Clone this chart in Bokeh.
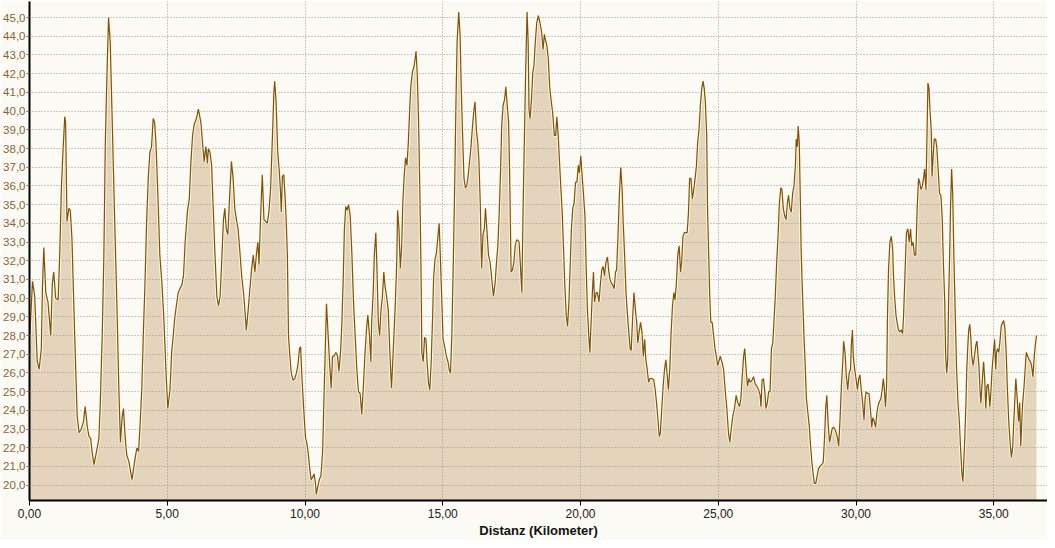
from bokeh.plotting import figure
from bokeh.models import Range1d, FixedTicker, CustomJSTickFormatter
from bokeh.embed import file_html
from bokeh.resources import INLINE

# Distance along the route (km)
distance_km = [
    0.00, 0.11, 0.19, 0.28, 0.35, 0.43, 0.47, 0.52, 0.59, 0.67, 0.77, 0.83, 0.88, 0.95, 1.04, 1.10,
    1.16, 1.22, 1.28, 1.31, 1.36, 1.43, 1.48, 1.54, 1.64, 1.73, 1.80, 1.88, 1.96, 2.02, 2.10, 2.16,
    2.22, 2.27, 2.34, 2.42, 2.52, 2.57, 2.64, 2.70, 2.75, 2.81, 2.87, 2.93, 3.00, 3.08, 3.17, 3.24,
    3.30, 3.36, 3.41, 3.47, 3.53, 3.60, 3.66, 3.72, 3.78, 3.84, 3.90, 3.96, 4.02, 4.08, 4.13, 4.19,
    4.25, 4.31, 4.37, 4.43, 4.49, 4.54, 4.59, 4.66, 4.73, 4.81, 4.87, 4.95, 5.02, 5.10, 5.16, 5.22,
    5.27, 5.34, 5.40, 5.46, 5.53, 5.59, 5.65, 5.73, 5.80, 5.86, 5.92, 5.98, 6.06, 6.13, 6.22, 6.28,
    6.34, 6.40, 6.46, 6.49, 6.55, 6.61, 6.66, 6.73, 6.80, 6.86, 6.92, 6.98, 7.04, 7.09, 7.14, 7.20,
    7.27, 7.33, 7.39, 7.45, 7.51, 7.57, 7.63, 7.70, 7.78, 7.87, 7.94, 8.00, 8.06, 8.12, 8.18, 8.24,
    8.29, 8.33, 8.39, 8.45, 8.51, 8.57, 8.63, 8.69, 8.75, 8.81, 8.87, 8.90, 8.95, 9.01, 9.07, 9.11,
    9.14, 9.18, 9.23, 9.27, 9.31, 9.36, 9.40, 9.45, 9.50, 9.57, 9.63, 9.69, 9.75, 9.80, 9.84, 9.89,
    9.94, 9.98, 10.02, 10.06, 10.11, 10.17, 10.22, 10.27, 10.33, 10.38, 10.41, 10.46, 10.52, 10.58,
    10.64, 10.70, 10.75, 10.78, 10.84, 10.89, 10.95, 11.00, 11.06, 11.12, 11.18, 11.23, 11.29, 11.34,
    11.39, 11.43, 11.48, 11.53, 11.58, 11.64, 11.70, 11.76, 11.82, 11.88, 11.94, 12.00, 12.06, 12.12,
    12.18, 12.24, 12.28, 12.34, 12.39, 12.42, 12.47, 12.52, 12.57, 12.61, 12.66, 12.71, 12.76, 12.81,
    12.86, 12.90, 12.96, 13.02, 13.08, 13.14, 13.20, 13.27, 13.33, 13.36, 13.41, 13.46, 13.51, 13.55,
    13.60, 13.65, 13.70, 13.75, 13.80, 13.84, 13.90, 13.96, 14.03, 14.07, 14.12, 14.17, 14.21, 14.24,
    14.29, 14.34, 14.39, 14.43, 14.48, 14.53, 14.58, 14.63, 14.67, 14.72, 14.77, 14.82, 14.87, 14.91,
    14.96, 15.01, 15.07, 15.13, 15.19, 15.23, 15.28, 15.33, 15.38, 15.43, 15.48, 15.52, 15.58, 15.63,
    15.67, 15.72, 15.77, 15.82, 15.87, 15.92, 15.98, 16.02, 16.07, 16.12, 16.17, 16.22, 16.27, 16.31,
    16.36, 16.41, 16.46, 16.51, 16.55, 16.60, 16.66, 16.72, 16.78, 16.84, 16.90, 16.95, 17.00, 17.05,
    17.10, 17.14, 17.19, 17.24, 17.29, 17.34, 17.39, 17.43, 17.48, 17.53, 17.58, 17.63, 17.68, 17.72,
    17.77, 17.82, 17.87, 17.92, 17.96, 18.01, 18.06, 18.10, 18.13, 18.17, 18.22, 18.27, 18.31, 18.36,
    18.41, 18.47, 18.53, 18.59, 18.64, 18.69, 18.73, 18.78, 18.83, 18.88, 18.93, 18.99, 19.05, 19.10,
    19.14, 19.19, 19.24, 19.29, 19.34, 19.39, 19.43, 19.48, 19.53, 19.58, 19.63, 19.67, 19.72, 19.77,
    19.82, 19.87, 19.92, 19.96, 20.01, 20.06, 20.11, 20.16, 20.20, 20.25, 20.30, 20.34, 20.39, 20.43,
    20.47, 20.51, 20.57, 20.61, 20.67, 20.72, 20.77, 20.82, 20.87, 20.92, 20.98, 21.02, 21.07, 21.12,
    21.17, 21.22, 21.27, 21.31, 21.36, 21.41, 21.46, 21.51, 21.55, 21.60, 21.65, 21.70, 21.75, 21.80,
    21.84, 21.89, 21.94, 21.99, 22.04, 22.08, 22.13, 22.18, 22.23, 22.28, 22.33, 22.37, 22.42, 22.47,
    22.52, 22.57, 22.61, 22.66, 22.71, 22.76, 22.81, 22.86, 22.90, 22.95, 23.00, 23.05, 23.10, 23.14,
    23.19, 23.24, 23.29, 23.34, 23.39, 23.43, 23.48, 23.53, 23.58, 23.63, 23.67, 23.72, 23.77, 23.82,
    23.87, 23.92, 23.96, 24.01, 24.06, 24.11, 24.16, 24.21, 24.25, 24.30, 24.35, 24.40, 24.45, 24.49,
    24.53, 24.58, 24.61, 24.65, 24.69, 24.73, 24.78, 24.83, 24.88, 24.93, 24.98, 25.02, 25.07, 25.13,
    25.19, 25.25, 25.31, 25.37, 25.42, 25.47, 25.53, 25.59, 25.65, 25.71, 25.77, 25.82, 25.87, 25.92,
    25.96, 26.01, 26.06, 26.11, 26.16, 26.22, 26.28, 26.34, 26.40, 26.46, 26.52, 26.55, 26.59, 26.64,
    26.69, 26.73, 26.78, 26.83, 26.88, 26.93, 26.98, 27.02, 27.07, 27.12, 27.17, 27.22, 27.27, 27.31,
    27.36, 27.41, 27.46, 27.51, 27.55, 27.60, 27.65, 27.70, 27.75, 27.80, 27.83, 27.87, 27.90, 27.94,
    27.98, 28.01, 28.06, 28.11, 28.16, 28.20, 28.25, 28.30, 28.35, 28.40, 28.45, 28.49, 28.54, 28.59,
    28.64, 28.69, 28.75, 28.81, 28.86, 28.90, 28.94, 28.99, 29.04, 29.08, 29.13, 29.18, 29.23, 29.28,
    29.33, 29.37, 29.42, 29.47, 29.52, 29.55, 29.60, 29.65, 29.70, 29.75, 29.80, 29.83, 29.87, 29.90,
    29.95, 30.00, 30.05, 30.10, 30.14, 30.19, 30.24, 30.29, 30.33, 30.37, 30.42, 30.47, 30.52, 30.57,
    30.61, 30.66, 30.71, 30.76, 30.81, 30.86, 30.90, 30.95, 30.99, 31.02, 31.07, 31.11, 31.14, 31.18,
    31.23, 31.28, 31.33, 31.36, 31.40, 31.45, 31.49, 31.54, 31.59, 31.64, 31.69, 31.73, 31.78, 31.83,
    31.88, 31.93, 31.98, 32.02, 32.07, 32.12, 32.17, 32.22, 32.27, 32.31, 32.36, 32.41, 32.46, 32.49,
    32.54, 32.58, 32.61, 32.65, 32.69, 32.73, 32.76, 32.80, 32.84, 32.89, 32.93, 32.98, 33.03, 33.08,
    33.13, 33.17, 33.22, 33.25, 33.29, 33.33, 33.36, 33.40, 33.43, 33.47, 33.51, 33.55, 33.60, 33.65,
    33.70, 33.75, 33.79, 33.84, 33.88, 33.91, 33.95, 33.99, 34.02, 34.06, 34.09, 34.13, 34.17, 34.20,
    34.25, 34.30, 34.35, 34.39, 34.43, 34.46, 34.50, 34.53, 34.58, 34.63, 34.67, 34.71, 34.75, 34.79,
    34.82, 34.86, 34.90, 34.94, 34.99, 35.03, 35.07, 35.10, 35.14, 35.18, 35.22, 35.27, 35.32, 35.36,
    35.40, 35.45, 35.49, 35.54, 35.59, 35.64, 35.69, 35.72, 35.76, 35.80, 35.83, 35.87, 35.90, 35.94,
    35.98, 36.02, 36.05, 36.10, 36.14, 36.18, 36.23, 36.28, 36.33, 36.37, 36.42, 36.47, 36.51, 36.55,
]

# Speed values (km/h)
speed_kmh = [
    27.7, 30.9, 30.1, 26.6, 26.2, 27.3, 30.6, 32.7, 30.3, 29.8, 28.0, 30.8, 31.4, 30.0, 29.9, 32.5,
    36.0, 38.0, 39.7, 39.4, 34.1, 34.8, 34.7, 33.2, 28.0, 23.7, 22.8, 23.0, 23.4, 24.2, 23.1, 22.6,
    22.5, 21.8, 21.1, 21.7, 22.5, 24.4, 28.0, 32.3, 38.1, 41.9, 45.0, 43.7, 39.6, 34.8, 29.8, 25.3,
    22.3, 23.6, 24.1, 22.6, 21.6, 21.3, 20.8, 20.3, 20.9, 21.5, 22.0, 21.8, 23.4, 25.3, 28.0, 30.7,
    34.0, 36.4, 37.8, 38.1, 39.6, 39.4, 38.3, 35.5, 32.3, 30.7, 29.1, 26.2, 24.1, 25.1, 27.1, 28.0,
    28.9, 29.7, 30.3, 30.5, 30.7, 31.2, 33.0, 34.6, 35.3, 37.3, 38.7, 39.3, 39.6, 40.1, 39.4, 38.3,
    37.3, 38.1, 37.2, 38.0, 37.8, 37.1, 35.1, 32.4, 30.1, 29.6, 30.1, 32.1, 34.2, 34.8, 33.7, 33.4,
    35.6, 37.3, 36.4, 34.8, 34.2, 33.7, 32.6, 31.2, 30.1, 28.3, 29.4, 30.5, 31.5, 32.3, 31.4, 32.4,
    33.0, 31.8, 34.4, 36.6, 34.2, 34.1, 34.0, 34.6, 35.8, 38.3, 41.0, 41.6, 40.5, 37.8, 36.7, 35.7,
    34.6, 36.5, 36.6, 35.6, 34.4, 32.3, 28.0, 26.9, 26.0, 25.6, 25.7, 26.0, 26.5, 27.3, 27.4, 25.7,
    24.4, 23.4, 22.5, 22.3, 21.8, 20.9, 20.3, 20.4, 20.6, 20.1, 19.5, 19.9, 20.3, 20.5,
    21.8, 25.3, 28.0, 29.7, 28.0, 26.6, 25.2, 26.9, 26.9, 27.1, 26.9, 26.1, 27.1, 28.7,
    31.2, 33.7, 34.9, 34.7, 35.0, 34.4, 32.4, 29.8, 28.0, 26.2, 25.0, 24.9, 23.8, 25.3,
    27.1, 28.5, 29.1, 28.0, 26.6, 28.7, 30.1, 32.4, 33.5, 31.7, 28.7, 28.0, 29.4, 30.1,
    31.4, 30.7, 30.1, 29.4, 27.1, 25.2, 27.1, 29.4, 31.9, 34.7, 33.7, 31.6, 32.8, 35.1,
    36.5, 37.5, 37.1, 38.3, 40.1, 41.3, 42.1, 42.4, 43.2, 42.1, 39.6, 35.5, 31.6, 27.1,
    26.6, 27.9, 27.8, 26.6, 25.5, 25.1, 26.6, 28.9, 31.1, 32.1, 32.4, 33.2, 34.0, 32.3,
    30.1, 27.8, 27.4, 26.9, 26.6, 26.2, 26.0, 28.0, 31.7, 35.8, 40.5, 43.7, 45.3, 44.0,
    41.3, 38.7, 36.4, 35.9, 36.0, 36.5, 37.4, 38.0, 39.0, 39.9, 40.5, 39.0, 38.3, 37.4,
    35.1, 31.6, 33.4, 33.7, 34.8, 33.7, 32.3, 31.9, 31.0, 30.1, 30.8, 31.9, 32.8, 34.6,
    36.9, 39.2, 40.3, 40.6, 41.3, 40.3, 39.4, 36.4, 31.4, 31.5, 31.9, 32.8, 33.1, 33.1,
    33.0, 31.7, 30.3, 35.1, 38.3, 42.2, 45.3, 43.7, 40.1, 39.6, 40.6, 42.1, 42.4, 43.7,
    44.7, 45.1, 44.7, 44.2, 43.3, 44.1, 43.8, 43.5, 42.8, 41.3, 40.6, 39.9, 38.7, 38.7,
    39.7, 38.7, 37.2, 35.8, 34.4, 32.4, 30.7, 29.1, 28.5, 29.8, 31.9, 33.7, 34.8, 35.1,
    36.2, 36.2, 37.1, 36.7, 37.6, 36.5, 35.5, 34.4, 31.9, 29.4, 28.0, 27.1, 28.9, 30.3,
    31.4, 29.8, 30.3, 30.3, 29.8, 30.7, 31.5, 31.7, 31.2, 31.9, 32.2, 31.5, 31.0, 30.8,
    30.7, 30.5, 31.4, 31.5, 33.3, 35.5, 37.0, 35.8, 34.0, 32.3, 30.3, 29.2, 28.2, 27.3,
    27.2, 28.9, 30.3, 29.4, 28.7, 27.6, 28.2, 28.7, 28.2, 26.9, 27.8, 26.7, 26.2, 25.5,
    25.7, 25.7, 25.7, 25.6, 25.1, 24.4, 23.5, 22.6, 22.8, 24.1, 25.3, 26.2, 26.7, 26.0,
    25.1, 26.2, 28.2, 29.6, 30.3, 29.9, 30.8, 32.3, 32.8, 31.4, 31.9, 33.3, 33.5, 33.5,
    33.5, 34.6, 36.4, 36.4, 35.3, 35.8, 36.4, 37.1, 38.3, 39.0, 40.3, 41.2, 41.6, 41.2,
    40.5, 38.7, 34.8, 32.4, 30.1, 28.7, 28.7, 28.0, 27.3, 26.9, 26.4, 26.6, 26.9, 26.6,
    26.2, 25.1, 24.1, 22.8, 22.3, 23.0, 23.7, 24.1, 24.8, 24.4, 24.2, 24.6, 25.8, 26.9,
    27.3, 26.2, 25.3, 25.7, 25.5, 25.6, 25.8, 25.4, 25.3, 25.1, 24.8, 24.2, 25.6, 25.7,
    25.0, 24.1, 24.4, 25.0, 25.0, 27.3, 27.6, 28.7, 30.1, 31.9, 33.3, 35.1, 35.9, 35.8,
    34.8, 34.4, 34.2, 35.1, 35.5, 34.8, 34.6, 35.6, 36.0, 37.1, 38.5, 38.1, 39.2, 38.3,
    35.1, 32.4, 30.1, 28.0, 26.2, 24.6, 23.9, 23.2, 22.1, 21.2, 20.5, 20.1, 20.1, 20.5,
    20.9, 21.0, 21.1, 21.2, 22.6, 24.1, 24.8, 23.2, 22.3, 22.6, 23.0, 23.1, 23.0, 22.8,
    22.5, 22.1, 23.5, 25.3, 26.6, 27.7, 27.1, 25.8, 25.1, 26.0, 26.2, 27.5, 28.3, 26.9,
    26.2, 25.7, 25.1, 25.7, 25.9, 25.1, 24.4, 23.5, 24.6, 25.0, 24.9, 24.9, 24.1, 23.1,
    23.6, 23.4, 23.1, 23.9, 24.3, 24.5, 24.6, 25.1, 25.7, 25.3, 24.2, 25.3, 28.9, 31.5,
    33.0, 33.3, 32.6, 31.2, 30.1, 29.1, 28.7, 28.3, 28.2, 28.3, 28.1, 29.2, 31.4, 33.5,
    33.7, 33.0, 33.7, 32.8, 33.0, 32.3, 32.3, 34.8, 36.4, 36.2, 35.8, 36.0, 36.5, 36.9,
    35.8, 39.0, 41.5, 41.2, 39.9, 39.0, 36.5, 37.6, 38.5, 38.5, 38.1, 36.9, 35.6, 35.5,
    34.2, 31.9, 29.8, 27.1, 26.0, 26.7, 29.8, 32.4, 34.8, 36.9, 35.5, 32.3, 29.2, 26.2,
    24.4, 23.4, 22.1, 20.7, 20.2, 21.2, 22.6, 24.4, 26.2, 27.5, 28.3, 28.6, 27.8, 26.9,
    26.4, 26.9, 27.5, 27.7, 26.9, 26.4, 25.1, 24.4, 25.5, 26.6, 25.7, 24.1, 25.3, 25.4,
    25.0, 24.2, 25.1, 26.2, 27.1, 27.8, 26.2, 27.1, 27.3, 27.1, 27.6, 28.5, 28.7, 28.8,
    28.4, 27.1, 25.3, 23.5, 22.3, 21.5, 22.1, 23.2, 24.4, 25.7, 25.1, 24.1, 23.4, 24.4,
    22.1, 23.5, 24.4, 25.3, 26.2, 27.1, 26.9, 26.7, 26.6, 26.4, 25.8, 26.9, 27.5, 28.0,
]

x_ticks = [0, 5, 10, 15, 20, 25, 30, 35]
y_ticks = list(range(20, 46))
x_title = "Distanz (Kilometer)"

BG = "#FBFAF4"
Y_BASE = 19.18

p = figure(
    width=1047, height=540,
    output_backend="svg", toolbar_location=None,
    x_range=Range1d(0, 36.95), y_range=Range1d(Y_BASE, 45.86),
    min_border_left=0, min_border_right=0, min_border_top=1, min_border_bottom=38,
    background_fill_color=BG, border_fill_color=BG,
)
p.outline_line_color = None

# filled area (drawn beneath the grid)
p.varea(x=distance_km, y1=Y_BASE, y2=speed_kmh, fill_color="#E3D4BB", level="image")
# light halo and brown line
p.line(distance_km, speed_kmh, line_color="#FFF7DE", line_width=3.2)
p.line(distance_km, speed_kmh, line_color="#7A5216", line_width=1.2)

# grids
p.xgrid.ticker = FixedTicker(ticks=x_ticks)
p.ygrid.ticker = FixedTicker(ticks=y_ticks)
for g in (p.xgrid, p.ygrid):
    g.grid_line_color = "#999999"
    g.grid_line_dash = "1 2"
    g.grid_line_width = 1

# x axis
xa = p.xaxis[0]
xa.ticker = FixedTicker(ticks=x_ticks)
xa.formatter = CustomJSTickFormatter(code="return tick.toFixed(2).replace('.', ',');")
xa.axis_line_color = "black"
xa.axis_line_width = 2
xa.major_tick_line_color = "black"
xa.major_tick_out = 5
xa.major_tick_in = 0
xa.minor_tick_line_color = None
xa.major_label_text_font = "Liberation Sans"
xa.major_label_text_font_size = "12px"
xa.major_label_text_color = "#222222"
xa.major_label_standoff = 3
xa.axis_label = x_title
xa.axis_label_text_font = "Liberation Sans"
xa.axis_label_text_font_style = "bold"
xa.axis_label_text_font_size = "13px"
xa.axis_label_text_color = "#111111"
xa.axis_label_standoff = 2

# y axis
ya = p.yaxis[0]
ya.ticker = FixedTicker(ticks=y_ticks)
ya.formatter = CustomJSTickFormatter(code="return tick.toFixed(1).replace('.', ',');")
ya.axis_line_color = "black"
ya.axis_line_width = 2
ya.major_tick_line_color = "#8a6536"
ya.major_tick_out = 3
ya.major_tick_in = 0
ya.minor_tick_line_color = None
ya.major_label_text_font = "Liberation Sans"
ya.major_label_text_font_size = "11.5px"
ya.major_label_text_color = "#8a6536"
ya.major_label_standoff = 1

open("out.html", "w").write(file_html(p, INLINE))
